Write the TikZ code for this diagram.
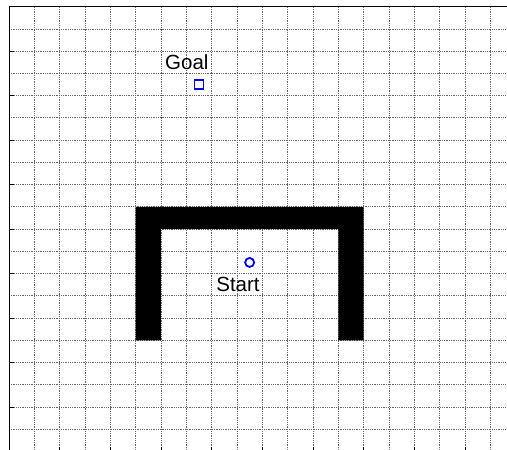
\documentclass[tikz,border=0pt]{standalone}
\usepackage{fontspec}
\setmainfont{Liberation Sans}
\usepackage{tikz}
\usetikzlibrary{positioning}
\tikzset{
  %% grid and axes
  gridln/.style={densely dotted, draw=black!60, line width=0.8bp},
  axisln/.style={draw=black, line width=0.8bp},
  tickln/.style={draw=black, line width=0.8bp},
  %% obstacle
  obst/.style={fill=black, draw=none},
  %% markers
  goalmk/.style={draw=blue, line width=1.8bp, rectangle, minimum size=9bp, inner sep=0pt},
  startmk/.style={draw=blue, line width=1.8bp, circle, minimum size=9bp, inner sep=0pt},
  lbl/.style={font=\fontsize{20.5bp}{24bp}\selectfont, inner sep=0pt, text=black},
}
\begin{document}
\begin{tikzpicture}[x=25.33bp, y=22.24bp]
\useasboundingbox (-0.355,0.067) rectangle (19.66,20.3);

%% grid
\foreach \i in {1,...,19}
  \draw[gridln] (\i,0) -- (\i,20);
\foreach \j in {0,...,19}
  \draw[gridln] (0,\j) -- (19.7,\j);

%% axes
\draw[axisln] (0,0) -- (0,20) -- (19.7,20);
\foreach \j in {0,2,...,18}
  \draw[tickln] (0,\j) -- (0.18,\j);
\foreach \i in {0,2,...,18}
  \draw[tickln] (\i,0) -- (\i,0.2);

%% obstacle
\fill[obst] (5,5) -- (5,11) -- (14,11) -- (14,5) -- (13,5) -- (13,10)
  -- (6,10) -- (6,5) -- cycle;

%% goal and start
\node[goalmk]  (goal)  at (7.5,16.5) {};
\node[lbl]     (goalt) at (7.02,17.5) {Goal};
\node[startmk] (start) at (9.5,8.5) {};
\node[lbl]     (startt) at (9.04,7.5) {Start};

\end{tikzpicture}
\end{document}
